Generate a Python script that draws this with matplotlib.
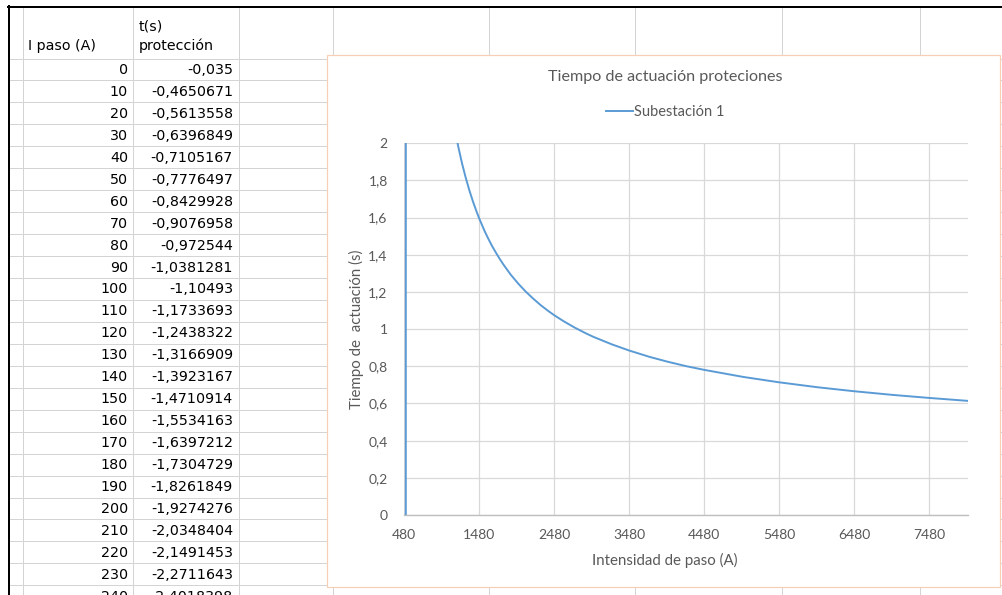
import matplotlib
matplotlib.use('Agg')
import matplotlib.pyplot as plt
from matplotlib.patches import Rectangle
from matplotlib.lines import Line2D

W, H = 1003, 595

# ---------------- spreadsheet data ----------------
header_I = 'I paso (A)'
header_t = ['t(s)', 'protección']
table_I = ['0', '10', '20', '30', '40', '50', '60', '70', '80', '90', '100',
           '110', '120', '130', '140', '150', '160', '170', '180', '190',
           '200', '210', '220', '230', '240']
table_t = ['-0,035', '-0,4650671', '-0,5613558', '-0,6396849', '-0,7105167',
           '-0,7776497', '-0,8429928', '-0,9076958', '-0,972544', '-1,0381281',
           '-1,10493', '-1,1733693', '-1,2438322', '-1,3166909', '-1,3923167',
           '-1,4710914', '-1,5534163', '-1,6397212', '-1,7304729', '-1,8261849',
           '-1,9274276', '-2,0348404', '-2,1491453', '-2,2711643', '-2,4018398']

# ---------------- chart data ----------------
chart_title = 'Tiempo de actuación proteciones'
series_name = 'Subestación 1'
x_title = 'Intensidad de paso (A)'
y_title = 'Tiempo de  actuación (s)'
current = [480, 490, 510, 520, 600, 800, 1000, 1100, 1150, 1200, 1250, 1300,
           1350, 1400, 1450, 1480, 1520, 1550, 1600, 1650, 1700, 1750, 1800,
           1900, 2000, 2100, 2200, 2300, 2400, 2480, 2600, 2750, 2900, 3000,
           3250, 3480, 3750, 4000, 4250, 4480, 5000, 5480, 6000, 6480, 7000,
           7480, 8000]
op_time = [-42.9, -86.6, 87.4, 44.6, 9.58, 3.71, 2.507, 2.202, 2.084, 1.982,
           1.892, 1.814, 1.744, 1.682, 1.626, 1.595, 1.557, 1.529, 1.487, 1.448,
           1.413, 1.380, 1.349, 1.293, 1.245, 1.202, 1.164, 1.129, 1.098, 1.075,
           1.044, 1.009, 0.978, 0.959, 0.918, 0.885, 0.851, 0.824, 0.800, 0.781,
           0.743, 0.714, 0.687, 0.666, 0.646, 0.630, 0.614]
x_ticks = [480, 1480, 2480, 3480, 4480, 5480, 6480, 7480]
y_ticks = [0, 0.2, 0.4, 0.6, 0.8, 1.0, 1.2, 1.4, 1.6, 1.8, 2.0]
y_tick_labels = ['0', '0,2', '0,4', '0,6', '0,8', '1', '1,2', '1,4', '1,6', '1,8', '2']


def fx(px):
    return px / W


def fy(py):
    return 1 - py / H


fig = plt.figure(figsize=(W / 100, H / 100), dpi=100)
fig.patch.set_facecolor('white')

PX = 0.72  # one pixel in points
grid_col = '#d4d4d4'

# column lines
col_x = [23, 133, 239, 333, 489, 635, 782, 920]
for cx in col_x:
    fig.add_artist(Line2D([fx(cx), fx(cx)], [fy(7), fy(600)], transform=fig.transFigure,
                          color=grid_col, lw=PX, zorder=1))
# row lines
row0, rowh = 58.5, 21.95
for k in range(27):
    yy = row0 + rowh * k
    fig.add_artist(Line2D([fx(9), fx(1003)], [fy(yy), fy(yy)], transform=fig.transFigure,
                          color=grid_col, lw=PX, zorder=1))
# thick black borders
fig.add_artist(Line2D([fx(8), fx(1003)], [fy(7), fy(7)], transform=fig.transFigure,
                      color='black', lw=2 * PX, zorder=2))
fig.add_artist(Line2D([fx(9), fx(9)], [fy(6), fy(600)], transform=fig.transFigure,
                      color='black', lw=2 * PX, zorder=2))

tfont = dict(family=['DejaVu Sans'], fontsize=10.3, color='black', zorder=2)
fig.text(fx(28), fy(50), header_I, ha='left', va='baseline', **tfont)
fig.text(fx(139), fy(31), header_t[0], ha='left', va='baseline', **tfont)
fig.text(fx(139), fy(50), header_t[1], ha='left', va='baseline', **tfont)
for k, (si, st) in enumerate(zip(table_I, table_t)):
    base = row0 + rowh * (k + 0.5) + 4.5
    fig.text(fx(128), fy(base), si, ha='right', va='baseline', **tfont)
    fig.text(fx(233), fy(base), st, ha='right', va='baseline', **tfont)

# chart area
fig.add_artist(Rectangle((fx(327), fy(587)), (1000 - 327) / W, (587 - 55) / H,
                         transform=fig.transFigure, facecolor='white',
                         edgecolor='#f6cfb5', lw=PX * 1.2, zorder=3))

cfont = ['Lato', 'DejaVu Sans']
txt_col = '#595959'
L, R, T, B = 404.3, 968, 143.3, 515
ax = fig.add_axes([fx(L), fy(B), (R - L) / W, (B - T) / H], zorder=5)
ax.set_facecolor('none')
line, = ax.plot(current, op_time, color='#5B9BD5', lw=1.4, solid_joinstyle='round',
                label=series_name, zorder=3)
ax.set_xlim(480, 8000)
ax.set_ylim(0, 2)
ax.set_xticks(x_ticks)
ax.set_xticklabels([str(v) for v in x_ticks])
ax.set_yticks(y_ticks)
ax.set_yticklabels(y_tick_labels)
for s in ['left', 'right', 'top']:
    ax.spines[s].set_visible(False)
ax.spines['bottom'].set_color('#bfbfbf')
ax.spines['bottom'].set_linewidth(1.0)
ax.grid(True, color='#d9d9d9', lw=0.9, zorder=0)
ax.set_axisbelow(True)
ax.tick_params(axis='both', length=0, labelsize=10, labelcolor=txt_col)
ax.tick_params(axis='y', pad=12)
ax.tick_params(axis='x', pad=10)
for lab in ax.get_xticklabels() + ax.get_yticklabels():
    lab.set_family(cfont)

ax.set_xlabel(x_title, fontsize=10.8, color=txt_col, family=cfont)
ax.xaxis.set_label_coords((665 - L) / (R - L), (B - 560.7) / (B - T))
ax.xaxis.label.set_verticalalignment('center')
ax.set_ylabel(y_title, fontsize=10.8, color=txt_col, family=cfont)
ax.yaxis.set_label_coords((356.7 - L) / (R - L), (B - 329) / (B - T))
ax.yaxis.label.set_verticalalignment('center')

fig.text(fx(665), fy(77), chart_title, ha='center', va='center', fontsize=11.6,
         color=txt_col, family=cfont, zorder=6)
leg = ax.legend(handles=[line], loc='center', bbox_to_anchor=(fx(665), fy(112)),
                bbox_transform=fig.transFigure, frameon=False, handlelength=1.9,
                handletextpad=0.05, prop={'family': cfont, 'size': 10.5})
for t in leg.get_texts():
    t.set_color(txt_col)

fig.savefig('out.png', dpi=100, facecolor='white')
